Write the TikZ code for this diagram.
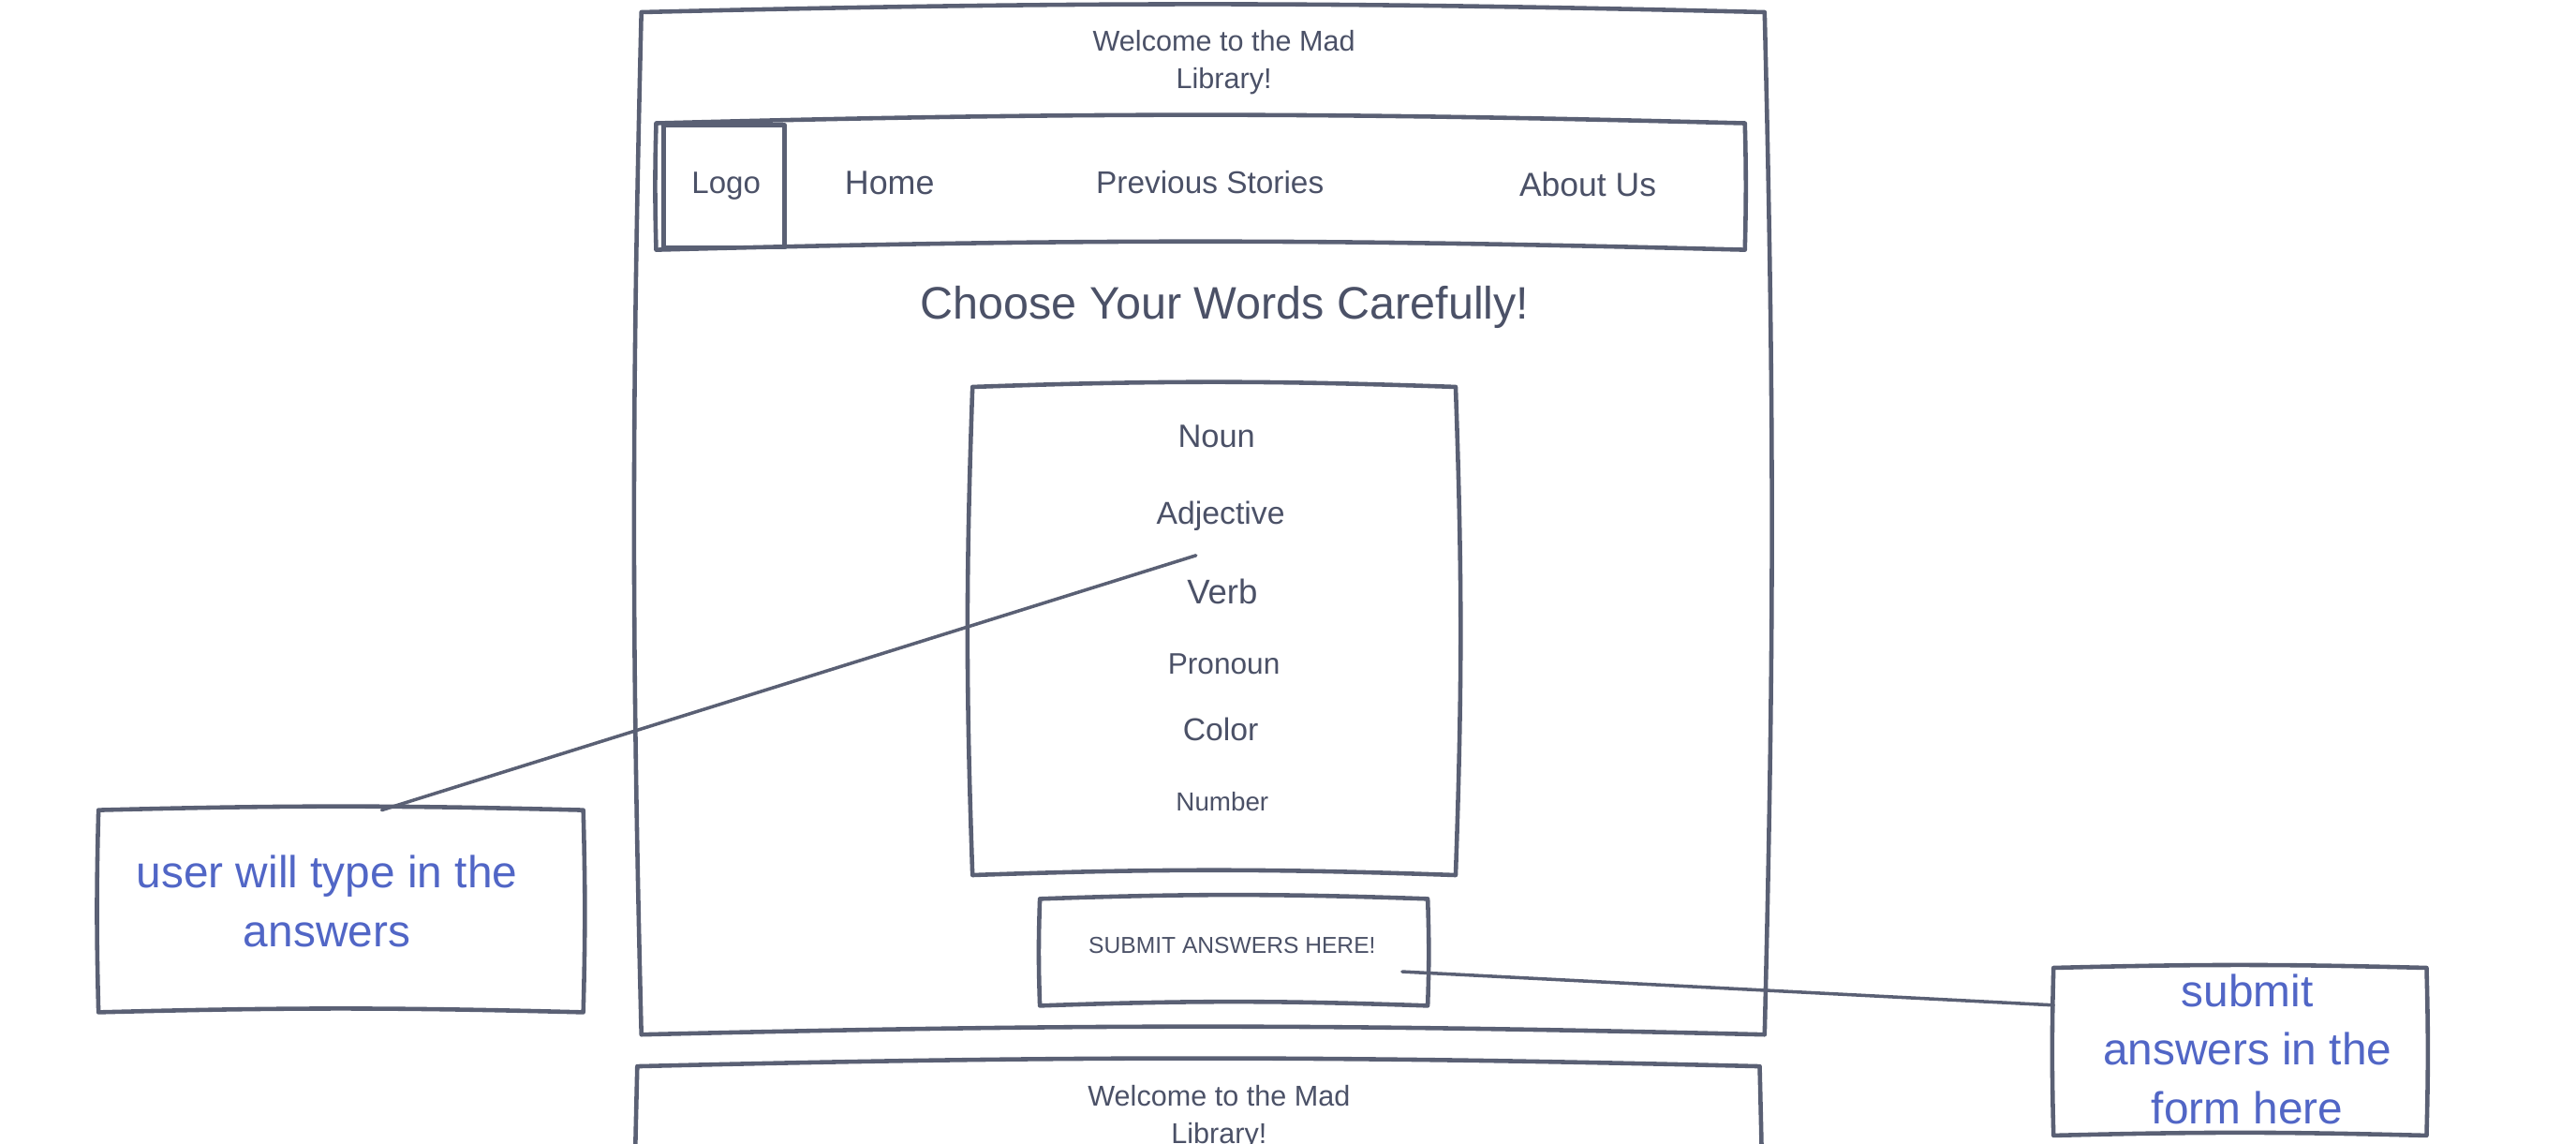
\documentclass[tikz,border=0pt]{standalone}
\usepackage{fontspec}
\setmainfont{Liberation Sans}
\definecolor{inkline}{HTML}{5A6074}
\definecolor{inktext}{HTML}{4B5167}
\definecolor{noteblue}{HTML}{5166C6}
\def\upx{0.499pt}
\newcommand{\roughbox}[2][2]{%
  \draw[boxline] (#2.north west) to[bend left=#1] (#2.north east)
    to[bend left=#1] (#2.south east) to[bend right=#1] (#2.south west)
    to[bend left=#1] (#2.north west);}

\begin{document}
\begin{tikzpicture}[x=0.017538cm, y=0.017538cm,
  frame/.style={inner sep=0pt, outer sep=0pt},
  boxline/.style={draw=inkline, line width=1.3pt, line join=round, line cap=round},
  wire/.style={draw=inkline, line width=1pt, line cap=round},
  lbl/.style={text=inktext, inner sep=0pt, text height=0.72*#1pt, text depth=0pt,
    font=\fontsize{#1pt}{#1pt}\selectfont},
  ttl/.style={text=inktext, align=center, inner sep=0pt,
    font=\fontsize{8.7pt}{11.5pt}\selectfont},
  notetxt/.style={text=noteblue, align=center, inner sep=0pt,
    font=\fontsize{13.6pt}{17.8pt}\selectfont}]
\path[use as bounding box, fill=white] (0,0) rectangle (1568,-696);

\node (page) [frame, minimum width=683.5*\upx, minimum height=622*\upx] at (732.25,-318.5) {};
\node (page2) [frame, minimum width=683*\upx, minimum height=622*\upx] at (729.5,-960) {};
\node (navbar) [frame, minimum width=662.5*\upx, minimum height=77*\upx] at (730.75,-113.5) {};
\node (logo) [frame, minimum width=73.5*\upx, minimum height=74.5*\upx] at (440.75,-113.25) {};
\node (words) [frame, minimum width=294*\upx, minimum height=297*\upx] at (739,-384) {};
\node (submit) [frame, minimum width=236*\upx, minimum height=65*\upx] at (751,-579.5) {};
\node (note1) [frame, minimum width=295*\upx, minimum height=123*\upx] at (207.5,-554.5) {};
\node (note2) [frame, minimum width=227*\upx, minimum height=102*\upx] at (1363.5,-640) {};

\roughbox[1.4]{page}
\roughbox[1.4]{page2}
\roughbox[1.5]{navbar}
\roughbox[0]{logo}
\roughbox{words}
\roughbox{submit}
\roughbox[1.5]{note1}
\roughbox[1.5]{note2}

\node (title) [ttl] at (745,-38) {Welcome to the Mad\\Library!};
\node (title2) [ttl] at (742,-680) {Welcome to the Mad\\Library!};
\node (logotxt) [lbl=9.4] at (442,-111) {Logo};
\node (home) [lbl=10.2] at (541.5,-111) {Home};
\node (stories) [lbl=9.5] at (736.5,-111) {Previous Stories};
\node (about) [lbl=10.1] at (966.5,-112) {About Us};
\node (heading) [lbl=13.8] at (745.5,-184) {Choose Your Words Carefully!};

\node (noun) [lbl=9.8] at (740.5,-265) {Noun};
\node (adj) [lbl=9.6] at (743,-312) {Adjective};
\node (verb) [lbl=10.4] at (744,-360) {Verb};
\node (pronoun) [lbl=9] at (745,-404) {Pronoun};
\node (color) [lbl=9.6] at (743,-444) {Color};
\node (number) [lbl=7.9] at (744,-488) {Number};
\node (subtxt) [lbl=7] at (750,-575) {SUBMIT ANSWERS HERE!};

\node (note1txt) [notetxt] at (199,-548.5) {user will type in the\\answers};
\node (note2txt) [notetxt] at (1368,-638.5) {submit\\answers in the\\form here};

\coordinate (adjtip) at (728,-338);
\coordinate (subtip) at (853.5,-591.3);
\draw[wire] (adjtip) -- (note1.68);
\draw[wire] (subtip) -- (note2.166);
\end{tikzpicture}
\end{document}
